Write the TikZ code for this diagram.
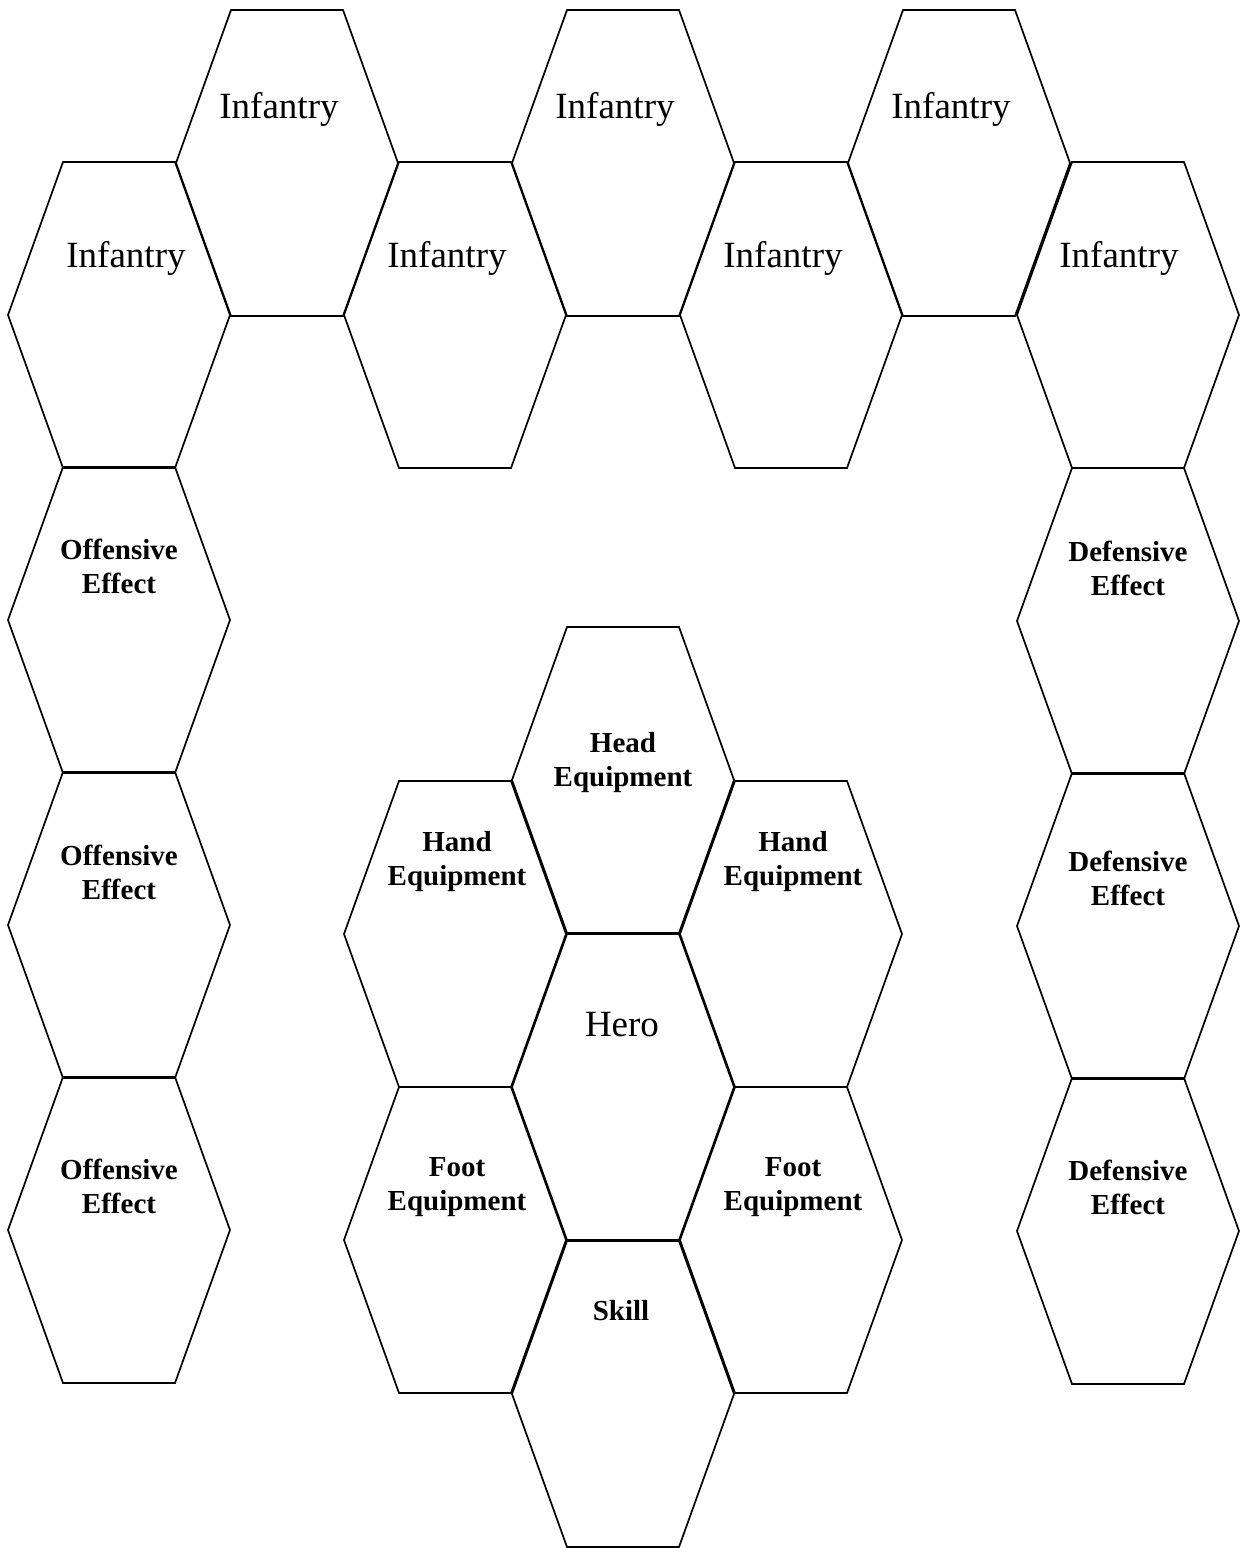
\documentclass[tikz,border=0pt]{standalone}
\usepackage{fontspec}
\setmainfont{Liberation Serif}

\tikzset{
  hexcell/.style={line width=0.85pt, line join=miter},
  unitlabel/.style={font=\fontsize{18.5}{22}\selectfont, inner sep=0pt},
  slotlabel/.style={font=\fontsize{14.5}{17}\selectfont\bfseries, align=center, inner sep=0pt}
}

\begin{document}
\begin{tikzpicture}[x=0.5pt, y=-0.5pt]
  \useasboundingbox (0,0) rectangle (1241,1548);

  % Hex cells (name/x/y of centre)
  \foreach \n/\x/\y in {i1/287/163, i3/623/163, i5/959/163,
      i0/119/315, i2/455/315, i4/791/315, i6/1128/315,
      o1/119/620, o2/119/925, o3/119/1230,
      d1/1128/621, d2/1128/926, d3/1128/1231,
      head/623/780, handl/455/934, handr/791/934, hero/623/1087,
      footl/455/1240, footr/791/1240, skill/623/1394} {
    \coordinate (\n) at (\x,\y);
    \draw[hexcell] (\n) ++(-111,0) -- ++(55,-153) -- ++(112,0) -- ++(55,153)
      -- ++(-55,153) -- ++(-112,0) -- cycle;
  }

  % Infantry row
  \foreach \i/\x/\y in {1/279/109, 3/615/109, 5/951/109,
      0/126/258, 2/447/258, 4/783/258, 6/1119/258} {
    \node[unitlabel] (inf\i) at (\x,\y) {Infantry};
  }

  % Effects, left and right
  \foreach \i/\y in {1/566, 2/872, 3/1186} {
    \node[slotlabel] (off\i) at (119,\y) {Offensive\\Effect};
  }
  \foreach \i/\y in {1/568, 2/878, 3/1187} {
    \node[slotlabel] (def\i) at (1128,\y) {Defensive\\Effect};
  }

  % Hero and equipment
  \node[slotlabel] (headlbl) at (623,763) {Head\\Equipment};
  \node[slotlabel] (handllbl) at (457,862) {Hand\\Equipment};
  \node[slotlabel] (handrlbl) at (793,862) {Hand\\Equipment};
  \node[unitlabel] (herolbl) at (622,1025) {Hero};
  \node[slotlabel] (footllbl) at (457,1187) {Foot\\Equipment};
  \node[slotlabel] (footrlbl) at (793,1187) {Foot\\Equipment};
  \node[slotlabel] (skilllbl) at (621,1311) {Skill};
\end{tikzpicture}
\end{document}
